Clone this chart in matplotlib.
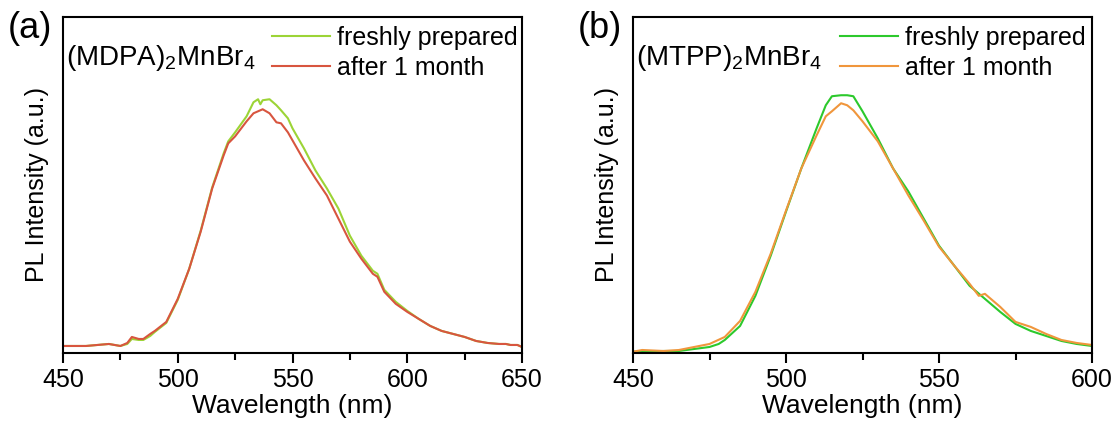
import matplotlib
matplotlib.use("Agg")
import matplotlib.pyplot as plt
from matplotlib.ticker import MultipleLocator

plt.rcParams['font.family'] = ['Liberation Sans', 'DejaVu Sans']
plt.rcParams['mathtext.fontset'] = 'custom'
plt.rcParams['mathtext.rm'] = 'Liberation Sans'
plt.rcParams['mathtext.it'] = 'Liberation Sans'

# Panel (a): (MDPA)2MnBr4
wl_a_red = [450, 455, 460, 465, 470, 475, 478, 480, 483, 485, 488, 490, 495, 500, 505, 510,
            515, 520, 522, 525, 530, 533, 535, 537, 540, 543, 545, 548, 550, 555, 560, 565,
            570, 575, 580, 585, 587, 590, 595, 600, 605, 610, 615, 620, 625, 630, 635, 640,
            643, 645, 648, 650]
int_a_red = [7, 7, 7, 8, 9, 7, 10, 16, 14, 14, 19, 22, 31, 54, 84, 121,
             164, 197, 209, 216, 231, 239, 241, 243, 239, 230, 229, 220, 212, 192, 174, 157,
             134, 111, 94, 79, 76, 61, 49, 41, 34, 27, 22, 19, 16, 12, 10, 9,
             9, 8, 8, 6]
wl_a_green = [450, 455, 460, 465, 470, 475, 478, 480, 483, 485, 488, 490, 495, 500, 505, 510,
              515, 520, 522, 525, 530, 533, 535, 536, 537, 540, 543, 545, 548, 550, 555, 560,
              565, 570, 575, 580, 585, 587, 590, 595, 600, 605, 610, 615, 620, 625, 630, 635,
              640, 643, 645, 648, 650]
int_a_green = [7, 7, 7, 8, 9, 7, 9, 14, 13, 13, 17, 21, 30, 53, 84, 122,
               165, 199, 211, 220, 236, 250, 253, 248, 252, 253, 247, 242, 234, 224, 204, 182,
               164, 144, 117, 97, 82, 79, 63, 51, 42, 34, 27, 22, 19, 16, 12, 10,
               9, 9, 8, 8, 6]

# Panel (b): (MTPP)2MnBr4
wl_b_green = [450, 460, 465, 470, 475, 478, 480, 485, 490, 495, 500, 505, 510, 513, 515, 518,
              520, 522, 525, 530, 535, 540, 545, 550, 555, 560, 565, 570, 575, 580, 585, 590,
              595, 600]
int_b_green = [1.3, 2, 2, 4, 6, 9, 13, 27, 57, 97, 141, 184, 224, 247, 256, 257,
               257, 256, 241, 214, 184, 161, 134, 107, 87, 67, 54, 41, 29, 22, 17, 12,
               9, 7]
wl_b_orange = [450, 453, 460, 465, 470, 475, 480, 485, 490, 495, 500, 505, 510, 513, 515, 518,
               520, 522, 525, 530, 535, 540, 545, 550, 555, 560, 563, 565, 570, 575, 580, 585,
               590, 595, 600]
int_b_orange = [1.3, 3, 2, 3, 6, 9, 16, 32, 61, 99, 142, 184, 217, 236, 241, 249,
                247, 242, 231, 211, 184, 157, 132, 106, 87, 69, 57, 59, 46, 31, 26, 19,
                13, 10, 8]

labels = ["freshly prepared", "after 1 month"]

W, H = 1115, 423
fig = plt.figure(figsize=(W / 100, H / 100), dpi=100)
TOP, BOT = 17, 353
axa = fig.add_axes([63 / W, (H - BOT) / H, (522 - 63) / W, (BOT - TOP) / H])
axb = fig.add_axes([633 / W, (H - BOT) / H, (1092 - 633) / W, (BOT - TOP) / H])

def style(ax, xlim, major):
    ax.set_xlim(*xlim)
    ax.set_ylim(0, 335)
    ax.xaxis.set_major_locator(MultipleLocator(major))
    ax.xaxis.set_minor_locator(MultipleLocator(major / 2))
    ax.set_yticks([])
    ax.tick_params(axis='x', which='major', direction='out', length=7, width=1.5,
                   labelsize=18, pad=4)
    ax.tick_params(axis='x', which='minor', direction='out', length=5, width=1.5)
    for s in ax.spines.values():
        s.set_linewidth(1.5)
    ax.set_xlabel("Wavelength (nm)", fontsize=19, labelpad=1)
    ax.set_ylabel("PL Intensity (a.u.)", fontsize=18, labelpad=10)

style(axa, (450, 650), 50)
style(axb, (450, 600), 50)

axa.plot(wl_a_green, int_a_green, color='#9CD436', lw=1.5, label=labels[0])
axa.plot(wl_a_red, int_a_red, color='#D8553F', lw=1.5, label=labels[1])
axb.plot(wl_b_green, int_b_green, color='#2CC92C', lw=1.5, label=labels[0])
axb.plot(wl_b_orange, int_b_orange, color='#F0963C', lw=1.5, label=labels[1])

panels = [(axa, r"(MDPA)$_2$MnBr$_4$", "(a)", 66, 8, 272),
          (axb, r"(MTPP)$_2$MnBr$_4$", "(b)", 636, 578, 840)]
for ax, name, tag, xname, xtag, xleg in panels:
    fig.text(xname / W, (H - 65) / H, name, fontsize=20, va='baseline', ha='left')
    fig.text(xtag / W, (H - 28) / H, tag, fontsize=26, va='center', ha='left')
    ax.legend(loc='upper left', bbox_to_anchor=(xleg / W, (H - 26) / H),
              bbox_transform=fig.transFigure, frameon=False, fontsize=18,
              handlelength=2.3, handletextpad=0.3, labelspacing=0.24,
              borderpad=0, borderaxespad=0)

fig.savefig("out.png", dpi=100)
